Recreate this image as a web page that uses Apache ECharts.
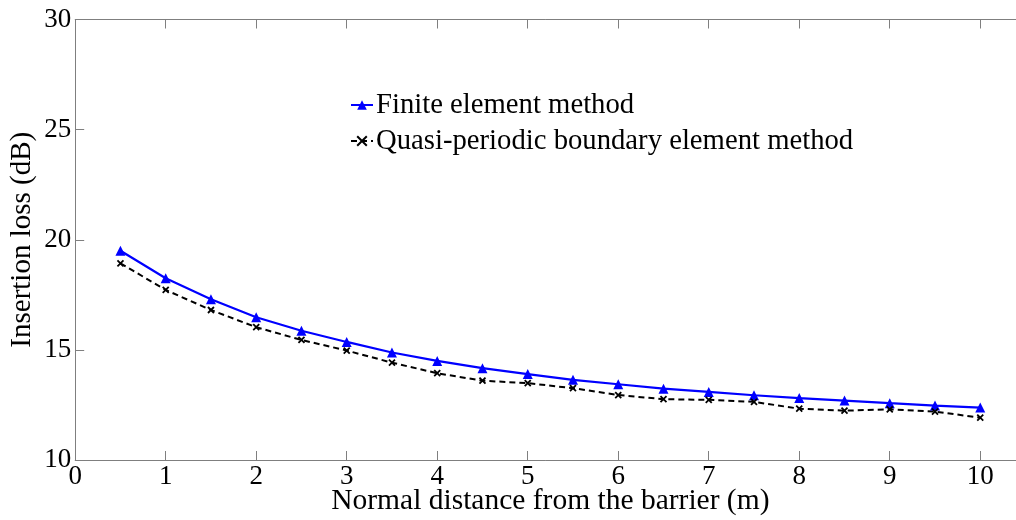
<!DOCTYPE html>
<html>
<head>
<meta charset="utf-8">
<script src="https://cdn.jsdelivr.net/npm/echarts@6/dist/echarts.min.js"></script>
<style>
html,body{margin:0;padding:0;background:#fff;}
#chart{width:1016px;height:520px;}
</style>
</head>
<body>
<div id="chart"></div>
<script>
const distances = [0.5, 1, 1.5, 2, 2.5, 3, 3.5, 4, 4.5, 5, 5.5, 6, 6.5, 7, 7.5, 8, 8.5, 9, 9.5, 10];
const femValues = [19.50, 18.25, 17.30, 16.48, 15.87, 15.36, 14.88, 14.50, 14.17, 13.90, 13.64, 13.44, 13.24, 13.09, 12.94, 12.81, 12.70, 12.58, 12.47, 12.38];
const qpbemValues = [18.93, 17.72, 16.81, 16.03, 15.45, 14.97, 14.42, 13.94, 13.60, 13.49, 13.26, 12.95, 12.76, 12.73, 12.64, 12.33, 12.24, 12.30, 12.20, 11.92];
const seriesNames = ['Finite element method', 'Quasi-periodic boundary element method'];
const xTitle = 'Normal distance from the barrier (m)';
const yTitle = 'Insertion loss (dB)';

const font = '"Liberation Serif", "Times New Roman", serif';
const axisGray = '#7f7f7f';
const crossPath = 'path://M0,0L10,10M10,0L0,10';

const chart = echarts.init(document.getElementById('chart'), null, {renderer: 'canvas'});

const intLabel = v => (Math.abs(v - Math.round(v)) < 1e-9 ? String(Math.round(v)) : '');

chart.setOption({
  animation: false,
  backgroundColor: '#ffffff',
  grid: {left: 75.2, top: 19.5, bottom: 60, right: -9.5, containLabel: false, outerBoundsMode: 'none'},
  legend: {
    left: 350, top: 90, orient: 'vertical', padding: 0,
    itemWidth: 22, itemHeight: 12, itemGap: 6,
    textStyle: {fontFamily: font, fontSize: 28.7, color: '#000', lineHeight: 30, padding: [0, 0, 0, -2]},
    data: seriesNames
  },
  xAxis: [{
    type: 'value', min: 0, max: 10.5, interval: 1,
    name: xTitle, nameLocation: 'middle', nameGap: 26, nameMoveOverlap: false,
    nameTextStyle: {fontFamily: font, fontSize: 29.5, color: '#000'},
    axisLine: {show: true, lineStyle: {color: axisGray, width: 1}},
    axisTick: {show: true, inside: true, length: 9, lineStyle: {color: axisGray}},
    axisLabel: {fontFamily: font, fontSize: 27, color: '#000', margin: 3, formatter: intLabel},
    splitLine: {show: false}
  }, {
    type: 'value', min: 0, max: 10.5, interval: 1, position: 'top',
    axisLine: {show: true, lineStyle: {color: axisGray, width: 1}},
    axisTick: {show: true, inside: true, length: 9, lineStyle: {color: axisGray}},
    axisLabel: {show: false},
    splitLine: {show: false}
  }],
  yAxis: {
    type: 'value', min: 10, max: 30, interval: 5,
    name: yTitle, nameLocation: 'middle', nameGap: 38, nameMoveOverlap: false,
    nameTextStyle: {fontFamily: font, fontSize: 29, color: '#000'},
    axisLine: {show: true, lineStyle: {color: axisGray, width: 1}},
    axisTick: {show: true, inside: true, length: 9, lineStyle: {color: axisGray}},
    axisLabel: {fontFamily: font, fontSize: 27, color: '#000', margin: 4},
    splitLine: {show: false}
  },
  series: [{
    name: seriesNames[0], type: 'line', xAxisIndex: 0,
    data: distances.map((d, i) => [d, femValues[i]]),
    symbol: 'triangle', symbolSize: 10,
    lineStyle: {color: '#0000ff', width: 2.2},
    itemStyle: {color: '#0000ff'}
  }, {
    name: seriesNames[1], type: 'line', xAxisIndex: 0,
    data: distances.map((d, i) => [d, qpbemValues[i]]),
    symbol: crossPath, symbolSize: 6,
    lineStyle: {color: '#000000', width: 2, type: [6, 4]},
    itemStyle: {color: '#000000', borderColor: '#000000', borderWidth: 1.8}
  }]
});
</script>
</body>
</html>
